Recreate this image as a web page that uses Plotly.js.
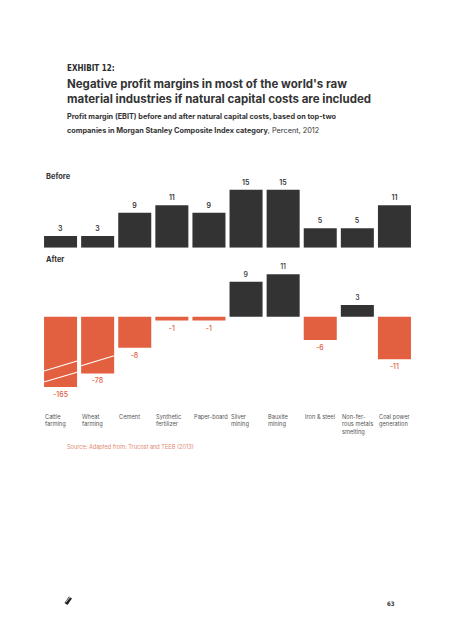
<!DOCTYPE html>
<html>
<head>
<meta charset="utf-8">
<script src="https://cdn.plot.ly/plotly-3.0.1.min.js"></script>
<style>html,body{margin:0;padding:0;background:#fff;}#chart{width:453px;height:640px;}</style>
</head>
<body>
<div id="chart"></div>
<script>
// ---- data ----
const categories = ["Cattle farming","Wheat farming","Cement","Synthetic fertilizer","Paper-board","Silver mining","Bauxite mining","Iron & steel","Non-ferrous metals smelting","Coal power generation"];
const categoryLabels = ["Cattle<br>farming","Wheat<br>farming","Cement","Synthetic<br>fertilizer","Paper-board","Silver<br>mining","Bauxite<br>mining","Iron & steel","Non-fer-<br>rous metals<br>smelting","Coal power<br>generation"];
const beforeValues = [3, 3, 9, 11, 9, 15, 15, 5, 5, 11];
const afterValues = [-165, -78, -8, -1, -1, 9, 11, -6, 3, -11];

// ---- styling ----
const W = 453, H = 640;
const DARK = "#333333", ORANGE = "#E2603F";
const FONT = "Inter, Roboto, 'Noto Sans', sans-serif";
const px = x => x / W;
const py = y => 1 - y / H;

// axis break for very long negative bars (values beyond the break are compressed)
const BREAK = -12, COMPRESS = 0.0405;
const shown = v => v < BREAK ? BREAK + (v - BREAK) * COMPRESS : v;

const xDomain = [px(42), px(413)];

const traceBefore = {
  type: "bar", x: categories, y: beforeValues,
  xaxis: "x", yaxis: "y",
  marker: {color: DARK},
  text: beforeValues.map(String), textposition: "outside",
  textfont: {family: FONT, size: 7, color: DARK, weight: 600},
  cliponaxis: false, hoverinfo: "skip"
};
const traceAfter = {
  type: "bar", x: categories, y: afterValues.map(shown),
  xaxis: "x2", yaxis: "y2",
  marker: {color: afterValues.map(v => v < 0 ? ORANGE : DARK)},
  text: afterValues.map(String), textposition: "outside",
  textfont: {family: FONT, size: 7, weight: 500, color: afterValues.map(v => v < 0 ? ORANGE : DARK)},
  cliponaxis: false, hoverinfo: "skip"
};

const SCALE = 3.87; // px per unit
const beforeBase = 247.7, afterBase = 316.7;
const yDomBefore = [py(beforeBase), py(beforeBase - 16 * SCALE)];
const yDomAfter = [py(afterBase + 20 * SCALE), py(afterBase - 12 * SCALE)];

const annotations = [
  {text: "<b>EXHIBIT 12:</b>", x: px(65), y: py(69), font: {family: "'DejaVu Sans Condensed', sans-serif", size: 8, color: "#2b2b2b"}},
  {text: "<b>Negative profit margins in most of the world's raw</b>", x: px(64.5), y: py(84), font: {family: FONT, size: 11.5, color: "#333"}},
  {text: "<b>material industries if natural capital costs are included</b>", x: px(64.5), y: py(99), font: {family: FONT, size: 11.5, color: "#333"}},
  {text: "<b>Profit margin (EBIT) before and after natural capital costs, based on top-two</b>", x: px(65), y: py(116.7), font: {family: FONT, size: 7.3, color: "#333"}},
  {text: "<b>companies in Morgan Stanley Composite Index category</b>, Percent, 2012", x: px(65), y: py(130), font: {family: FONT, size: 7.3, color: "#333"}},
  {text: "<b>Before</b>", x: px(44), y: py(176), font: {family: FONT, size: 7.5, color: "#333"}},
  {text: "<b>After</b>", x: px(44), y: py(259), font: {family: FONT, size: 7.5, color: "#333"}},
  {text: "Source: Adapted from: Trucost and TEEB (2013)", x: px(65), y: py(447), font: {family: FONT, size: 5.6, color: "#E08A70"}},
  {text: "<b>63</b>", x: px(385), y: py(603), font: {family: "'DejaVu Sans Condensed', sans-serif", size: 6, color: "#333"}}
].map(a => Object.assign({xref: "paper", yref: "paper", xanchor: "left", yanchor: "middle", showarrow: false, align: "left"}, a));

categoryLabels.forEach((lab, i) => {
  annotations.push({
    text: lab, xref: "x2", yref: "paper", x: i - 0.47, y: py(411),
    xanchor: "left", yanchor: "top", align: "left", showarrow: false,
    font: {family: FONT, size: 5.7, color: "#555"}
  });
});

const wl = {color: "#ffffff", width: 1.1};
const shapes = [
  {type: "line", xref: "x2", yref: "y2", x0: -0.445, x1: 0.445, y0: -14.03, y1: -11.45, line: wl},
  {type: "line", xref: "x2", yref: "y2", x0: -0.445, x1: 0.445, y0: -16.87, y1: -14.37, line: wl},
  {type: "line", xref: "x2", yref: "y2", x0: 0.555, x1: 1.445, y0: -12.66, y1: -10.08, line: wl},
  // logo
  {type: "path", xref: "paper", yref: "paper",
   path: `M ${px(64.5)} ${py(603)} L ${px(69)} ${py(596.5)} L ${px(72)} ${py(598.5)} L ${px(67.5)} ${py(605)} Z`,
   fillcolor: "#222", line: {width: 0}},
  {type: "line", xref: "paper", yref: "paper", x0: px(65.8), y0: py(602.3), x1: px(70.3), y1: py(596.8), line: {color: "#fff", width: 0.8}}
];

const axX = {domain: xDomain, range: [-0.5, 9.5], type: "category", visible: false, fixedrange: true};
const layout = {
  width: W, height: H,
  margin: {l: 0, r: 0, t: 0, b: 0},
  paper_bgcolor: "#fff", plot_bgcolor: "rgba(0,0,0,0)",
  showlegend: false, bargap: 0.11,
  xaxis: Object.assign({anchor: "y"}, axX),
  xaxis2: Object.assign({anchor: "y2"}, axX),
  yaxis: {domain: yDomBefore, range: [0, 16], visible: false, fixedrange: true},
  yaxis2: {domain: yDomAfter, range: [-20, 12], visible: false, fixedrange: true},
  annotations: annotations, shapes: shapes,
  font: {family: FONT}
};

Plotly.newPlot("chart", [traceBefore, traceAfter], layout, {displayModeBar: false, staticPlot: true});
</script>
</body>
</html>
